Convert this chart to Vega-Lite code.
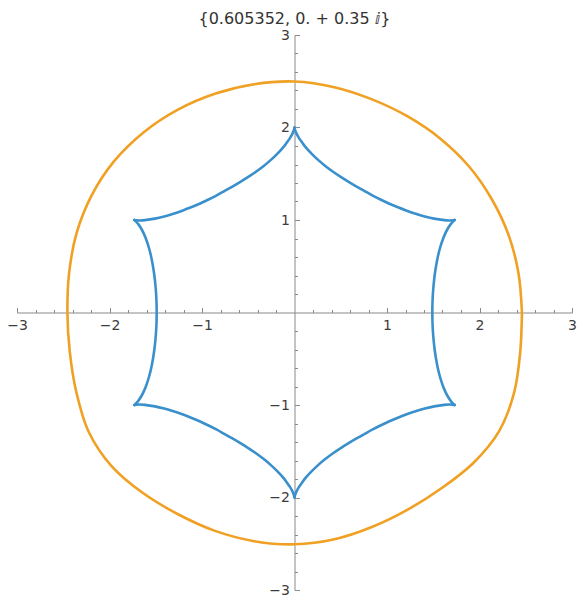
{
  "$schema": "https://vega.github.io/schema/vega-lite/v6.json",
  "width": 555,
  "height": 555,
  "autosize": {"type": "none"},
  "padding": {"left": 17, "top": 35, "right": 5, "bottom": 8},
  "background": "white",
  "config": {"view": {"stroke": null}},
  "title": {
    "text": "{0.605352, 0. + 0.35 ⅈ}",
    "font": "DejaVu Sans",
    "fontSize": 16,
    "fontWeight": "normal",
    "color": "#333333",
    "anchor": "middle",
    "offset": 1
  },
  "datasets": {
    "outer": [
      {"i": 0, "x": 2.459, "y": 0},
      {"i": 1, "x": 2.421, "y": 0.427},
      {"i": 2, "x": 2.313, "y": 0.842},
      {"i": 3, "x": 2.130, "y": 1.230},
      {"i": 4, "x": 1.885, "y": 1.581},
      {"i": 5, "x": 1.577, "y": 1.879},
      {"i": 6, "x": 1.224, "y": 2.119},
      {"i": 7, "x": 0.839, "y": 2.304},
      {"i": 8, "x": 0.430, "y": 2.436},
      {"i": 9, "x": 0, "y": 2.497},
      {"i": 10, "x": -0.435, "y": 2.468},
      {"i": 11, "x": -0.861, "y": 2.365},
      {"i": 12, "x": -1.265, "y": 2.191},
      {"i": 13, "x": -1.633, "y": 1.947},
      {"i": 14, "x": -1.950, "y": 1.636},
      {"i": 15, "x": -2.193, "y": 1.266},
      {"i": 16, "x": -2.356, "y": 0.857},
      {"i": 17, "x": -2.436, "y": 0.430},
      {"i": 18, "x": -2.455, "y": 0},
      {"i": 19, "x": -2.429, "y": -0.428},
      {"i": 20, "x": -2.359, "y": -0.859},
      {"i": 21, "x": -2.227, "y": -1.286},
      {"i": 22, "x": -1.978, "y": -1.660},
      {"i": 23, "x": -1.638, "y": -1.952},
      {"i": 24, "x": -1.259, "y": -2.181},
      {"i": 25, "x": -0.859, "y": -2.361},
      {"i": 26, "x": -0.436, "y": -2.472},
      {"i": 27, "x": 0, "y": -2.506},
      {"i": 28, "x": 0.432, "y": -2.452},
      {"i": 29, "x": 0.843, "y": -2.317},
      {"i": 30, "x": 1.229, "y": -2.129},
      {"i": 31, "x": 1.593, "y": -1.898},
      {"i": 32, "x": 1.936, "y": -1.624},
      {"i": 33, "x": 2.214, "y": -1.279},
      {"i": 34, "x": 2.375, "y": -0.864},
      {"i": 35, "x": 2.440, "y": -0.430},
      {"i": 36, "x": 2.459, "y": 0}
    ],
    "inner": [
      {"arm": "a1", "i": 0, "x": 0, "y": 2.0},
      {"arm": "a1", "i": 1, "x": 0.007, "y": 1.972},
      {"arm": "a1", "i": 2, "x": 0.021, "y": 1.936},
      {"arm": "a1", "i": 3, "x": 0.049, "y": 1.885},
      {"arm": "a1", "i": 4, "x": 0.081, "y": 1.840},
      {"arm": "a1", "i": 5, "x": 0.113, "y": 1.796},
      {"arm": "a1", "i": 6, "x": 0.184, "y": 1.718},
      {"arm": "a1", "i": 7, "x": 0.258, "y": 1.647},
      {"arm": "a1", "i": 8, "x": 0.336, "y": 1.582},
      {"arm": "a1", "i": 9, "x": 0.417, "y": 1.522},
      {"arm": "a1", "i": 10, "x": 0.500, "y": 1.466},
      {"arm": "a1", "i": 11, "x": 0.585, "y": 1.413},
      {"arm": "a1", "i": 12, "x": 0.671, "y": 1.362},
      {"arm": "a1", "i": 13, "x": 0.758, "y": 1.3125},
      {"arm": "a1", "i": 14, "x": 0.845, "y": 1.264},
      {"arm": "a1", "i": 15, "x": 0.935, "y": 1.219},
      {"arm": "a1", "i": 16, "x": 1.026, "y": 1.176},
      {"arm": "a1", "i": 17, "x": 1.118, "y": 1.137},
      {"arm": "a1", "i": 18, "x": 1.213, "y": 1.101},
      {"arm": "a1", "i": 19, "x": 1.309, "y": 1.068},
      {"arm": "a1", "i": 20, "x": 1.408, "y": 1.039},
      {"arm": "a1", "i": 21, "x": 1.510, "y": 1.015},
      {"arm": "a1", "i": 22, "x": 1.563, "y": 1.007},
      {"arm": "a1", "i": 23, "x": 1.616, "y": 0.999},
      {"arm": "a1", "i": 24, "x": 1.671, "y": 0.995},
      {"arm": "a1", "i": 25, "x": 1.707, "y": 0.996},
      {"arm": "a1", "i": 26, "x": 1.732, "y": 1.0},

      {"arm": "a2", "i": 0, "x": 1.732, "y": 1.0},
      {"arm": "a2", "i": 1, "x": 1.710, "y": 0.98},
      {"arm": "a2", "i": 2, "x": 1.685, "y": 0.95},
      {"arm": "a2", "i": 3, "x": 1.653, "y": 0.9},
      {"arm": "a2", "i": 4, "x": 1.628, "y": 0.85},
      {"arm": "a2", "i": 5, "x": 1.607, "y": 0.8},
      {"arm": "a2", "i": 6, "x": 1.574, "y": 0.7},
      {"arm": "a2", "i": 7, "x": 1.549, "y": 0.6},
      {"arm": "a2", "i": 8, "x": 1.530, "y": 0.5},
      {"arm": "a2", "i": 9, "x": 1.515, "y": 0.4},
      {"arm": "a2", "i": 10, "x": 1.504, "y": 0.3},
      {"arm": "a2", "i": 11, "x": 1.496, "y": 0.2},
      {"arm": "a2", "i": 12, "x": 1.4915, "y": 0.1},
      {"arm": "a2", "i": 13, "x": 1.490, "y": 0},
      {"arm": "a2", "i": 14, "x": 1.4915, "y": -0.1},
      {"arm": "a2", "i": 15, "x": 1.496, "y": -0.2},
      {"arm": "a2", "i": 16, "x": 1.504, "y": -0.3},
      {"arm": "a2", "i": 17, "x": 1.515, "y": -0.4},
      {"arm": "a2", "i": 18, "x": 1.530, "y": -0.5},
      {"arm": "a2", "i": 19, "x": 1.549, "y": -0.6},
      {"arm": "a2", "i": 20, "x": 1.574, "y": -0.7},
      {"arm": "a2", "i": 21, "x": 1.607, "y": -0.8},
      {"arm": "a2", "i": 22, "x": 1.628, "y": -0.85},
      {"arm": "a2", "i": 23, "x": 1.653, "y": -0.9},
      {"arm": "a2", "i": 24, "x": 1.685, "y": -0.95},
      {"arm": "a2", "i": 25, "x": 1.710, "y": -0.98},
      {"arm": "a2", "i": 26, "x": 1.732, "y": -1.0},

      {"arm": "a3", "i": 0, "x": 0, "y": -2.0},
      {"arm": "a3", "i": 1, "x": 0.007, "y": -1.972},
      {"arm": "a3", "i": 2, "x": 0.021, "y": -1.936},
      {"arm": "a3", "i": 3, "x": 0.049, "y": -1.885},
      {"arm": "a3", "i": 4, "x": 0.081, "y": -1.840},
      {"arm": "a3", "i": 5, "x": 0.113, "y": -1.796},
      {"arm": "a3", "i": 6, "x": 0.184, "y": -1.718},
      {"arm": "a3", "i": 7, "x": 0.258, "y": -1.647},
      {"arm": "a3", "i": 8, "x": 0.336, "y": -1.582},
      {"arm": "a3", "i": 9, "x": 0.417, "y": -1.522},
      {"arm": "a3", "i": 10, "x": 0.500, "y": -1.466},
      {"arm": "a3", "i": 11, "x": 0.585, "y": -1.413},
      {"arm": "a3", "i": 12, "x": 0.671, "y": -1.362},
      {"arm": "a3", "i": 13, "x": 0.758, "y": -1.3125},
      {"arm": "a3", "i": 14, "x": 0.845, "y": -1.264},
      {"arm": "a3", "i": 15, "x": 0.935, "y": -1.219},
      {"arm": "a3", "i": 16, "x": 1.026, "y": -1.176},
      {"arm": "a3", "i": 17, "x": 1.118, "y": -1.137},
      {"arm": "a3", "i": 18, "x": 1.213, "y": -1.101},
      {"arm": "a3", "i": 19, "x": 1.309, "y": -1.068},
      {"arm": "a3", "i": 20, "x": 1.408, "y": -1.039},
      {"arm": "a3", "i": 21, "x": 1.510, "y": -1.015},
      {"arm": "a3", "i": 22, "x": 1.563, "y": -1.007},
      {"arm": "a3", "i": 23, "x": 1.616, "y": -0.999},
      {"arm": "a3", "i": 24, "x": 1.671, "y": -0.995},
      {"arm": "a3", "i": 25, "x": 1.707, "y": -0.996},
      {"arm": "a3", "i": 26, "x": 1.732, "y": -1.0},

      {"arm": "a4", "i": 0, "x": 0, "y": -2.0},
      {"arm": "a4", "i": 1, "x": -0.007, "y": -1.972},
      {"arm": "a4", "i": 2, "x": -0.021, "y": -1.936},
      {"arm": "a4", "i": 3, "x": -0.049, "y": -1.885},
      {"arm": "a4", "i": 4, "x": -0.081, "y": -1.840},
      {"arm": "a4", "i": 5, "x": -0.113, "y": -1.796},
      {"arm": "a4", "i": 6, "x": -0.184, "y": -1.718},
      {"arm": "a4", "i": 7, "x": -0.258, "y": -1.647},
      {"arm": "a4", "i": 8, "x": -0.336, "y": -1.582},
      {"arm": "a4", "i": 9, "x": -0.417, "y": -1.522},
      {"arm": "a4", "i": 10, "x": -0.500, "y": -1.466},
      {"arm": "a4", "i": 11, "x": -0.585, "y": -1.413},
      {"arm": "a4", "i": 12, "x": -0.671, "y": -1.362},
      {"arm": "a4", "i": 13, "x": -0.758, "y": -1.3125},
      {"arm": "a4", "i": 14, "x": -0.845, "y": -1.264},
      {"arm": "a4", "i": 15, "x": -0.935, "y": -1.219},
      {"arm": "a4", "i": 16, "x": -1.026, "y": -1.176},
      {"arm": "a4", "i": 17, "x": -1.118, "y": -1.137},
      {"arm": "a4", "i": 18, "x": -1.213, "y": -1.101},
      {"arm": "a4", "i": 19, "x": -1.309, "y": -1.068},
      {"arm": "a4", "i": 20, "x": -1.408, "y": -1.039},
      {"arm": "a4", "i": 21, "x": -1.510, "y": -1.015},
      {"arm": "a4", "i": 22, "x": -1.563, "y": -1.007},
      {"arm": "a4", "i": 23, "x": -1.616, "y": -0.999},
      {"arm": "a4", "i": 24, "x": -1.671, "y": -0.995},
      {"arm": "a4", "i": 25, "x": -1.707, "y": -0.996},
      {"arm": "a4", "i": 26, "x": -1.732, "y": -1.0},

      {"arm": "a5", "i": 0, "x": -1.732, "y": 1.0},
      {"arm": "a5", "i": 1, "x": -1.710, "y": 0.98},
      {"arm": "a5", "i": 2, "x": -1.685, "y": 0.95},
      {"arm": "a5", "i": 3, "x": -1.653, "y": 0.9},
      {"arm": "a5", "i": 4, "x": -1.628, "y": 0.85},
      {"arm": "a5", "i": 5, "x": -1.607, "y": 0.8},
      {"arm": "a5", "i": 6, "x": -1.574, "y": 0.7},
      {"arm": "a5", "i": 7, "x": -1.549, "y": 0.6},
      {"arm": "a5", "i": 8, "x": -1.530, "y": 0.5},
      {"arm": "a5", "i": 9, "x": -1.515, "y": 0.4},
      {"arm": "a5", "i": 10, "x": -1.504, "y": 0.3},
      {"arm": "a5", "i": 11, "x": -1.496, "y": 0.2},
      {"arm": "a5", "i": 12, "x": -1.4915, "y": 0.1},
      {"arm": "a5", "i": 13, "x": -1.490, "y": 0},
      {"arm": "a5", "i": 14, "x": -1.4915, "y": -0.1},
      {"arm": "a5", "i": 15, "x": -1.496, "y": -0.2},
      {"arm": "a5", "i": 16, "x": -1.504, "y": -0.3},
      {"arm": "a5", "i": 17, "x": -1.515, "y": -0.4},
      {"arm": "a5", "i": 18, "x": -1.530, "y": -0.5},
      {"arm": "a5", "i": 19, "x": -1.549, "y": -0.6},
      {"arm": "a5", "i": 20, "x": -1.574, "y": -0.7},
      {"arm": "a5", "i": 21, "x": -1.607, "y": -0.8},
      {"arm": "a5", "i": 22, "x": -1.628, "y": -0.85},
      {"arm": "a5", "i": 23, "x": -1.653, "y": -0.9},
      {"arm": "a5", "i": 24, "x": -1.685, "y": -0.95},
      {"arm": "a5", "i": 25, "x": -1.710, "y": -0.98},
      {"arm": "a5", "i": 26, "x": -1.732, "y": -1.0},

      {"arm": "a6", "i": 0, "x": 0, "y": 2.0},
      {"arm": "a6", "i": 1, "x": -0.007, "y": 1.972},
      {"arm": "a6", "i": 2, "x": -0.021, "y": 1.936},
      {"arm": "a6", "i": 3, "x": -0.049, "y": 1.885},
      {"arm": "a6", "i": 4, "x": -0.081, "y": 1.840},
      {"arm": "a6", "i": 5, "x": -0.113, "y": 1.796},
      {"arm": "a6", "i": 6, "x": -0.184, "y": 1.718},
      {"arm": "a6", "i": 7, "x": -0.258, "y": 1.647},
      {"arm": "a6", "i": 8, "x": -0.336, "y": 1.582},
      {"arm": "a6", "i": 9, "x": -0.417, "y": 1.522},
      {"arm": "a6", "i": 10, "x": -0.500, "y": 1.466},
      {"arm": "a6", "i": 11, "x": -0.585, "y": 1.413},
      {"arm": "a6", "i": 12, "x": -0.671, "y": 1.362},
      {"arm": "a6", "i": 13, "x": -0.758, "y": 1.3125},
      {"arm": "a6", "i": 14, "x": -0.845, "y": 1.264},
      {"arm": "a6", "i": 15, "x": -0.935, "y": 1.219},
      {"arm": "a6", "i": 16, "x": -1.026, "y": 1.176},
      {"arm": "a6", "i": 17, "x": -1.118, "y": 1.137},
      {"arm": "a6", "i": 18, "x": -1.213, "y": 1.101},
      {"arm": "a6", "i": 19, "x": -1.309, "y": 1.068},
      {"arm": "a6", "i": 20, "x": -1.408, "y": 1.039},
      {"arm": "a6", "i": 21, "x": -1.510, "y": 1.015},
      {"arm": "a6", "i": 22, "x": -1.563, "y": 1.007},
      {"arm": "a6", "i": 23, "x": -1.616, "y": 0.999},
      {"arm": "a6", "i": 24, "x": -1.671, "y": 0.995},
      {"arm": "a6", "i": 25, "x": -1.707, "y": 0.996},
      {"arm": "a6", "i": 26, "x": -1.732, "y": 1.0}
    ]
  },
  "layer": [
    {
      "data": {"name": "inner"},
      "mark": {"type": "line", "color": "#3A90CC", "strokeWidth": 2.6, "interpolate": "catmull-rom", "strokeCap": "round", "strokeJoin": "round"},
      "encoding": {
        "x": {
          "field": "x", "type": "quantitative",
          "scale": {"domain": [-3, 3], "nice": false, "zero": false},
          "axis": {
            "orient": "bottom", "offset": -277.5, "title": null, "grid": false,
            "values": [-3, -2, -1, 1, 2, 3], "format": "d",
            "tickSize": -5, "tickWidth": 1, "tickColor": "#8a8a8a",
            "domainColor": "#8a8a8a", "domainWidth": 1,
            "labelFont": "DejaVu Sans", "labelFontSize": 14, "labelColor": "#3c3c3c",
            "labelPadding": 11, "labelFlush": false, "labelOverlap": false
          }
        },
        "y": {
          "field": "y", "type": "quantitative",
          "scale": {"domain": [-3, 3], "nice": false, "zero": false},
          "axis": {
            "orient": "left", "offset": -277.5, "title": null, "grid": false,
            "values": [-3, -2, -1, 1, 2, 3], "format": "d",
            "tickSize": -5, "tickWidth": 1, "tickColor": "#8a8a8a",
            "domainColor": "#8a8a8a", "domainWidth": 1,
            "labelFont": "DejaVu Sans", "labelFontSize": 14, "labelColor": "#3c3c3c",
            "labelPadding": 10, "labelFlush": false, "labelOverlap": false
          }
        },
        "detail": {"field": "arm"},
        "order": {"field": "i", "type": "quantitative"}
      }
    },
    {
      "data": {"name": "outer"},
      "mark": {"type": "line", "color": "#F0A023", "strokeWidth": 2.6, "interpolate": "catmull-rom", "strokeCap": "round", "strokeJoin": "round"},
      "encoding": {
        "x": {
          "field": "x", "type": "quantitative",
          "scale": {"domain": [-3, 3], "nice": false, "zero": false},
          "axis": {
            "orient": "bottom", "offset": -277.5, "title": null, "grid": false,
            "domain": false, "labels": false,
            "values": [-2.8, -2.6, -2.4, -2.2, -1.8, -1.6, -1.4, -1.2, -0.8, -0.6, -0.4, -0.2, 0.2, 0.4, 0.6, 0.8, 1.2, 1.4, 1.6, 1.8, 2.2, 2.4, 2.6, 2.8],
            "tickSize": -3, "tickWidth": 1, "tickColor": "#8a8a8a"
          }
        },
        "y": {
          "field": "y", "type": "quantitative",
          "scale": {"domain": [-3, 3], "nice": false, "zero": false},
          "axis": {
            "orient": "left", "offset": -277.5, "title": null, "grid": false,
            "domain": false, "labels": false,
            "values": [-2.8, -2.6, -2.4, -2.2, -1.8, -1.6, -1.4, -1.2, -0.8, -0.6, -0.4, -0.2, 0.2, 0.4, 0.6, 0.8, 1.2, 1.4, 1.6, 1.8, 2.2, 2.4, 2.6, 2.8],
            "tickSize": -3, "tickWidth": 1, "tickColor": "#8a8a8a"
          }
        },
        "order": {"field": "i", "type": "quantitative"}
      }
    }
  ],
  "resolve": {
    "scale": {"x": "independent", "y": "independent"},
    "axis": {"x": "independent", "y": "independent"}
  }
}
